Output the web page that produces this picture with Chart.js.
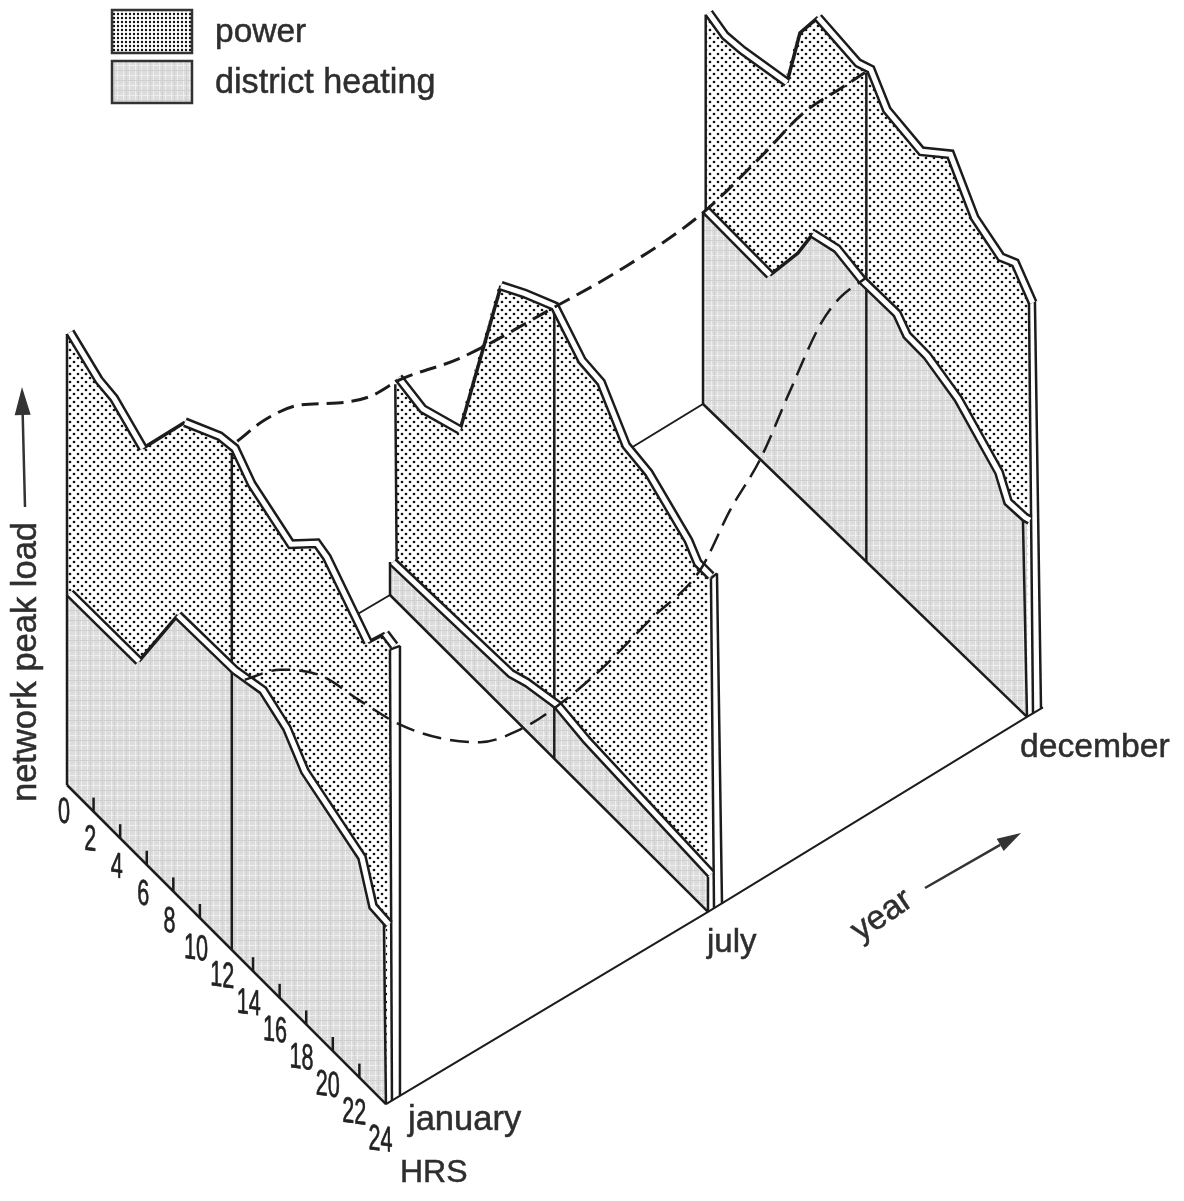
<!DOCTYPE html>
<html>
<head>
<meta charset="utf-8">
<title>network peak load</title>
<script src="https://cdn.jsdelivr.net/npm/chart.js@4"></script>
<style>
html, body { margin: 0; padding: 0; background: #fff; }
canvas { display: block; }
</style>
</head>
<body>
<canvas id="loadChart" width="1184" height="1201"></canvas>
<script>
// Load curves, one knot list per month (hours of the day, load in picture units)
var janPowerHours = [0, 2.18, 3.31, 5.49, 8.65, 11.27, 12.41, 13.67, 16.62, 18.58, 19.33, 22.42, 23.7, 24.4];
var janPowerLoad = [451, 432, 429, 408, 476, 497, 500, 481, 460, 487, 483, 439, 465, 462];
var janHeatHours = [0, 5.19, 8.12, 12.41, 14.52, 16.32, 17.67, 21.97, 22.8, 24];
var janHeatLoad = [190, 191, 276, 278, 286, 272, 247, 218, 180, 178];

var julPowerHours = [0.4, 2.26, 5.06, 8.15, 9.96, 12.2, 14.26, 15.7, 17.6, 19.3, 22.3, 23, 24];
var julPowerLoad = [221, 214, 230, 415, 431, 448, 421, 418, 380, 375, 347, 334, 334];
var julHeatHours = [0, 8.9, 10.1, 12.4, 14.6, 24];
var julHeatLoad = [31, 37, 44, 52, 46, 36];

var decPowerHours = [0.2, 1.41, 2.67, 6, 6.96, 8.3, 11.26, 12.2, 13.4, 15.96, 18.1, 19.9, 21.85, 22.9, 24.2];
var decPowerLoad = [392, 385, 387, 398, 460, 493, 486, 492, 467, 459, 484, 444, 430, 438, 415];
var decHeatHours = [0, 4.74, 6.81, 7.93, 9.7, 11.56, 14.15, 14.89, 16.37, 18.67, 21.7, 22.37, 23.63, 24];
var decHeatLoad = [192, 189, 238, 272, 280, 273, 273, 261, 260, 247, 213, 192, 193, 195];

// Noon load through the year (the dashed curves)
var noonPowerMonths = [1.2, 1.71, 2.37, 3.06, 3.67, 4.23, 5.34, 7.06, 8.12, 9.39, 10.38, 11.02, 11.65, 12];
var noonPowerLoad = [497, 502, 496, 476, 463, 462, 448, 443, 440, 446, 468, 485, 487, 488];
var noonHeatMonths = [1.34, 2, 2.74, 3.48, 4.23, 4.97, 5.72, 6.46, 7.09, 7.81, 8.6, 9.39, 9.87, 10.34, 10.82, 11.29, 11.6, 12];
var noonHeatLoad = [254, 243, 214, 165, 117, 80, 52, 41, 42, 52, 72, 91, 133, 165, 216, 263, 278, 282];

var hourTicks = [0, 2, 4, 6, 8, 10, 12, 14, 16, 18, 20, 22, 24];
var monthLabels = ['january', 'july', 'december'];
var seriesLabels = ['power', 'district heating'];

// Where each month's sheet stands on the page
var panelMonths = [1, 7, 12];
var panelX = [67, 390, 703];
var panelY = [785, 595, 404];
var panelDx = [13.29, 13.25, 13.5];
var panelDy = [13.3, 13.2, 13.04];

// Sheet edges: hour, load, depth at the foot, then hour, load, depth at the head
var janEdges = [[0, 0, 0, 0, 451, 0], [12.4, 0, 0, 12.4, 497, 0], [24, 0, 0, 23.85, 178, 0], [24, 0, 6, 23.85, 449, 6], [24, 0, 14, 24, 450, 14], [23.85, 449, 6, 24, 450, 14]];
var julEdges = [[0, 0, 0, 0, 33, 0], [0.5, 41, 0, 0.4, 216, 0], [12.4, 0, 0, 12.4, 448, 0], [24, 0, 0, 24, 35, 0], [24, 0, 6, 23.77, 327, 6], [24, 0, 14, 23.62, 325, 14], [23.77, 327, 6, 23.62, 325, 14]];
var decEdges = [[0, 0, 0, 0, 192, 0], [0.2, 190, 0, 0.2, 392, 0], [12.1, 0, 0, 12.1, 489, 0], [24, 0, 0, 23.7, 193, 0], [24, 0, 6, 23.7, 409, 6], [24, 0, 14, 23.55, 402, 14], [23.7, 409, 6, 23.55, 402, 14]];

var INK = '#1c1c1c';
var TEXT = '#2e2e2e';

function project(panel, hour, load, depth)
{
    depth = depth || 0;
    return {
        x: panelX[panel] + panelDx[panel] * hour + depth,
        y: panelY[panel] + panelDy[panel] * hour - load - depth * 0.6
    };
}

// Point on the noon plane between two sheets
function projectNoon(month, load)
{
    var i = month < panelMonths[1] ? 0 : 1;
    var t = (month - panelMonths[i]) / (panelMonths[i + 1] - panelMonths[i]);
    var a = project(i, 12, 0), b = project(i + 1, 12, 0);
    return {x: a.x + (b.x - a.x) * t, y: a.y + (b.y - a.y) * t - load};
}

function makePattern(w, h, paint)
{
    var tile = document.createElement('canvas');
    tile.width = w;
    tile.height = h;
    var c = tile.getContext('2d');
    paint(c);
    return c.createPattern(tile, 'repeat');
}

function dot(c, x, y, r)
{
    c.beginPath();
    c.arc(x, y, r, 0, Math.PI * 2);
    c.fill();
}

var powerPattern = makePattern(8, 8, function (c) {
    c.fillStyle = '#fff';
    c.fillRect(0, 0, 8, 8);
    c.fillStyle = '#111';
    dot(c, 2, 2, 1.35);
    dot(c, 6, 6, 1.35);
});

var legendPowerPattern = makePattern(4, 4, function (c) {
    c.fillStyle = '#fff';
    c.fillRect(0, 0, 4, 4);
    c.fillStyle = '#111';
    dot(c, 2, 2, 1.2);
});

var heatPattern = makePattern(12, 10, function (c) {
    c.fillStyle = '#dcdcdc';
    c.fillRect(0, 0, 12, 10);
    c.fillStyle = '#eeeeee';
    c.fillRect(3, 0, 1, 10);
    c.fillRect(9, 0, 1, 10);
    c.fillRect(0, 5, 12, 1);
    c.fillStyle = '#d0d0d0';
    c.fillRect(0, 0, 12, 1);
    c.fillRect(6, 0, 1, 10);
});

var datasets = [];

function addDataset(points, opts)
{
    var ds = {
        data: points,
        showLine: true,
        pointRadius: 0,
        pointHoverRadius: 0,
        borderColor: INK,
        borderWidth: 2,
        backgroundColor: 'transparent',
        fill: false,
        tension: 0,
        order: -datasets.length
    };
    for (var k in opts) ds[k] = opts[k];
    datasets.push(ds);
    return ds;
}

function curvePoints(panel, hours, loads, depth)
{
    return hours.map(function (h, i) { return project(panel, h, loads[i], depth); });
}

// Sheet area: the curve, then back along the floor
function addArea(panel, hours, loads, pattern, label)
{
    var pts = curvePoints(panel, hours, loads, 0);
    pts.push(project(panel, 24, 0));
    pts.push(project(panel, hours[0], 0));
    addDataset(pts, {label: label, fill: 'shape', backgroundColor: pattern, borderWidth: 0});
}

// Rising stretches show the sheet's face only, so they get one plain line
function isRise(ctx)
{
    return ctx.p1.parsed.y < ctx.p0.parsed.y - 5;
}

function addBand(panel, hours, loads)
{
    var pts = curvePoints(panel, hours, loads, 3);
    addDataset(pts, {
        borderWidth: 10,
        segment: {borderWidth: function (ctx) { return isRise(ctx) ? 3.5 : 10; }}
    });
    addDataset(pts, {
        borderWidth: 5,
        borderColor: '#fff',
        segment: {borderColor: function (ctx) { return isRise(ctx) ? 'rgba(0,0,0,0)' : '#fff'; }}
    });
}

function addPanel(panel, powerHours, powerLoad, heatHours, heatLoad, edges)
{
    addArea(panel, powerHours, powerLoad, powerPattern, seriesLabels[0]);
    addArea(panel, heatHours, heatLoad, heatPattern, seriesLabels[1]);
    addDataset([project(panel, 0, 0), project(panel, 24, 0)], {borderWidth: 2.5});
    edges.forEach(function (e) {
        addDataset([project(panel, e[0], e[1], e[2]), project(panel, e[3], e[4], e[5])], {borderWidth: 2.5});
    });
    addBand(panel, powerHours, powerLoad);
    addBand(panel, heatHours, heatLoad);
}

function addArrow(tail, tip, length, halfWidth)
{
    var dx = tip.x - tail.x, dy = tip.y - tail.y;
    var len = Math.sqrt(dx * dx + dy * dy);
    var ux = dx / len, uy = dy / len;
    var bx = tip.x - ux * length, by = tip.y - uy * length;
    addDataset([tail, {x: bx, y: by}], {borderWidth: 2.5, borderColor: '#333'});
    addDataset([tip, {x: bx - uy * halfWidth, y: by + ux * halfWidth}, {x: bx + uy * halfWidth, y: by - ux * halfWidth}], {
        fill: 'shape',
        backgroundColor: '#333',
        borderWidth: 0
    });
}

// Floor lines go down first, every sheet stands on them
addDataset([project(0, 0, 0), project(1, 0, 0), project(2, 0, 0)], {borderWidth: 2});
addDataset([project(0, 24, 0), project(1, 24, 0), project(2, 24, 0), project(2, 24, 0, 16)], {borderWidth: 2});

addPanel(2, decPowerHours, decPowerLoad, decHeatHours, decHeatLoad, decEdges);
addPanel(1, julPowerHours, julPowerLoad, julHeatHours, julHeatLoad, julEdges);
addPanel(0, janPowerHours, janPowerLoad, janHeatHours, janHeatLoad, janEdges);

// Hour ticks along the january floor
hourTicks.slice(1, -1).forEach(function (h) {
    if (h == 12) return;
    var foot = project(0, h, 0);
    addDataset([foot, {x: foot.x, y: foot.y - 14}], {borderWidth: 2.5});
});

addDataset(noonPowerMonths.map(function (m, i) { return projectNoon(m, noonPowerLoad[i]); }), {
    borderWidth: 3,
    borderDash: [17, 8],
    cubicInterpolationMode: 'monotone'
});
addDataset(noonHeatMonths.map(function (m, i) { return projectNoon(m, noonHeatLoad[i]); }), {
    borderWidth: 2.5,
    borderDash: [19, 9],
    cubicInterpolationMode: 'monotone'
});

addArrow({x: 25, y: 507}, {x: 22, y: 387}, 28, 8);
addArrow({x: 925, y: 888}, {x: 1021, y: 833}, 24, 7);

function drawText(ctx, text, x, y, size, angle)
{
    ctx.save();
    ctx.translate(x, y);
    if (angle) ctx.rotate(angle);
    ctx.font = size + 'px "Liberation Sans", Arial, sans-serif';
    ctx.fillStyle = TEXT;
    ctx.strokeStyle = TEXT;
    ctx.lineWidth = 0.5;
    ctx.textAlign = 'left';
    ctx.textBaseline = 'alphabetic';
    ctx.fillText(text, 0, 0);
    ctx.strokeText(text, 0, 0);
    ctx.restore();
}

var pageLabels = {
    id: 'pageLabels',
    afterDraw: function (chart) {
        var ctx = chart.ctx;

        // Legend
        [[112, 10, 80, 43, legendPowerPattern], [112, 61, 80, 42, heatPattern]].forEach(function (b) {
            ctx.fillStyle = b[4];
            ctx.fillRect(b[0], b[1], b[2], b[3]);
            ctx.strokeStyle = '#333';
            ctx.lineWidth = 2.5;
            ctx.strokeRect(b[0], b[1], b[2], b[3]);
        });
        drawText(ctx, seriesLabels[0], 215, 42, 33.5);
        drawText(ctx, seriesLabels[1], 215, 93, 34.2);

        drawText(ctx, 'network peak load', 36, 802, 34.5, -Math.PI / 2);
        drawText(ctx, 'year', 860, 942, 34, -0.6);
        drawText(ctx, monthLabels[0], 408, 1130, 34.5);
        drawText(ctx, monthLabels[1], 707, 952, 33);
        drawText(ctx, monthLabels[2], 1020, 757, 33.7);
        drawText(ctx, 'HRS', 400, 1182, 32);

        // Hour labels, narrow and sheared along the floor line
        hourTicks.forEach(function (h) {
            var foot = project(0, h, 0);
            ctx.save();
            ctx.transform(0.6, 0.08, 0, 1, foot.x - 3 - h * 0.1, foot.y + 28 + h * 0.35);
            ctx.font = '36px "Liberation Sans", Arial, sans-serif';
            ctx.fillStyle = '#222';
            ctx.strokeStyle = '#222';
            ctx.lineWidth = 0.7;
            ctx.textAlign = 'center';
            ctx.textBaseline = 'middle';
            ctx.fillText(String(h), 0, 0);
            ctx.strokeText(String(h), 0, 0);
            ctx.restore();
        });
    }
};

var loadChart = new Chart(document.getElementById('loadChart'), {
    type: 'scatter',
    data: {datasets: datasets},
    plugins: [pageLabels],
    options: {
        responsive: false,
        animation: false,
        layout: {padding: 0},
        events: [],
        plugins: {
            legend: {display: false},
            tooltip: {enabled: false}
        },
        scales: {
            x: {type: 'linear', min: 0, max: 1184, display: false},
            y: {type: 'linear', min: 0, max: 1201, reverse: true, display: false}
        }
    }
});
</script>
</body>
</html>
